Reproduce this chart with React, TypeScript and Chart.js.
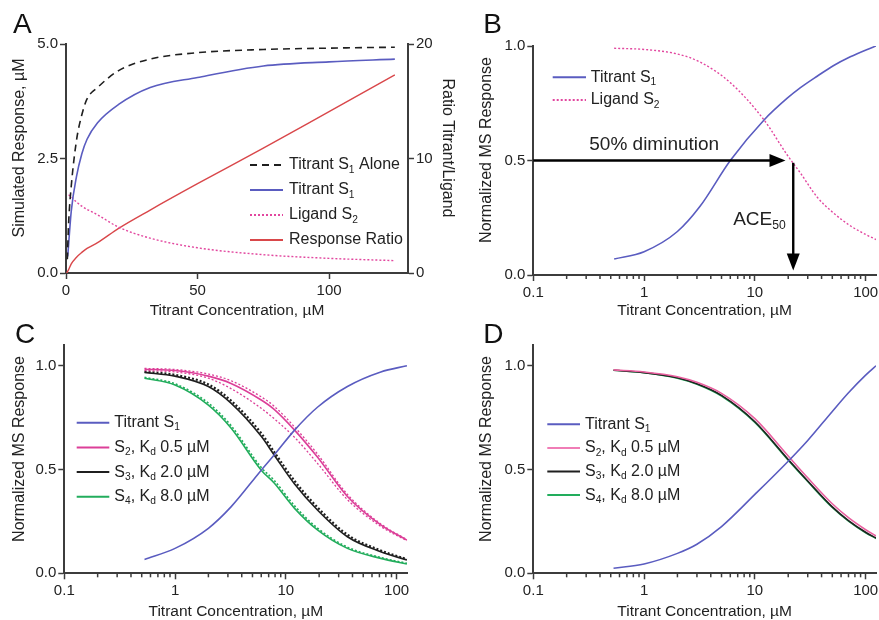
import React, { useEffect, useRef } from "react";
import { Chart, registerables } from "chart.js";

Chart.register(...registerables);

const FONT = "'Liberation Sans', Arial, Helvetica, sans-serif";
const AXIS = "#3c3c3c";
const TEXT = "#222222";
const BLUE = "#5a5cc0";
const PINK = "#e2479f";
const MAGENTA = "#dc3f98";
const PINK_D = "#e9609f";
const RED = "#d9474a";
const GREEN = "#22ad5c";
const BLACK = "#1f1f1f";

// ---------- Panel A (linear) ----------
const aXTicks = [0, 50, 100];
const aXTickLabels = ["0", "50", "100"];
const aYTicks = [0, 2.5, 5];
const aYTickLabels = ["0.0", "2.5", "5.0"];
const aY2Ticks = [0, 10, 20];
const aY2TickLabels = ["0", "10", "20"];

const aAloneX = [0.5, 1, 2, 4, 6, 8, 12, 20, 32, 50, 75, 100, 125];
const aAlone = [0.3, 1.1, 1.9, 2.9, 3.45, 3.8, 4.05, 4.42, 4.67, 4.81, 4.88, 4.91, 4.93];
const aS1X = [0.65, 2, 4, 6, 8, 12, 20, 32, 50, 75, 100, 125];
const aS1 = [0.36, 1.35, 2.11, 2.6, 2.92, 3.28, 3.68, 4.05, 4.27, 4.52, 4.61, 4.67];
const aS2X = [1, 2, 4, 6, 8, 12, 20, 32, 50, 75, 100, 125];
const aS2 = [1.71, 1.66, 1.55, 1.46, 1.39, 1.27, 1.0, 0.76, 0.55, 0.4, 0.32, 0.27];
const aRatioX = [0.25, 1, 2, 4, 6, 8, 12, 20, 32, 50, 75, 100, 125];
const aRatio = [0, 0.3, 0.8, 1.38, 1.8, 2.15, 2.65, 3.9, 5.5, 7.8, 10.9, 14.1, 17.3];

// ---------- Log panels shared ticks ----------
const logXTicks = [0.1, 1, 10, 100];
const logXTickLabels = ["0.1", "1", "10", "100"];
const logMinorTicks = [0.1, 1, 10].flatMap((d) => [2, 3, 4, 5, 6, 7, 8, 9].map((m) => +(m * d).toFixed(2)));
const normYTicks = [0, 0.5, 1];
const normYTickLabels = ["0.0", "0.5", "1.0"];

// ---------- Panel B ----------
const bX = [0.537, 1, 2, 3.2, 6, 12.1, 19.6, 25.8, 36.5, 51.5, 72.7, 102, 124];
const bS1 = [0.07, 0.102, 0.19, 0.3, 0.5, 0.677, 0.772, 0.818, 0.868, 0.915, 0.953, 0.984, 1.0];
const bS2 = [0.99, 0.985, 0.965, 0.93, 0.84, 0.677, 0.524, 0.445, 0.34, 0.27, 0.215, 0.175, 0.155];
const bArrowY = 0.5;
const bArrowStartX = 0.1;
const bArrowTipX = 18.9;
const bAceX = 22.2;
const bAceTopY = 0.49;
const bAceTipY = 0.02;
const bDimLabel = "50% diminution";
const bDimLabelPos = [0.32, 0.57];
const bAceLabel = "ACE_{50}";
const bAceLabelPos = [19, 0.24];

// ---------- Panel C ----------
const cX = [0.53, 1, 2, 3.2, 6, 7.85, 12, 19.3, 36, 72, 124];
const cS1 = [0.067, 0.12, 0.217, 0.32, 0.497, 0.57, 0.69, 0.8, 0.9, 0.97, 1.0];
const cS2 = [0.983, 0.977, 0.95, 0.915, 0.835, 0.79, 0.69, 0.56, 0.37, 0.233, 0.16];
const cS2Upper = [0.987, 0.982, 0.96, 0.928, 0.85, 0.805, 0.705, 0.575, 0.38, 0.238, 0.162];
const cS2Lower = [0.977, 0.97, 0.94, 0.89, 0.795, 0.745, 0.655, 0.53, 0.355, 0.226, 0.157];
const cS3 = [0.968, 0.95, 0.9, 0.82, 0.66, 0.57, 0.43, 0.305, 0.176, 0.104, 0.064];
const cS3Dot = [0.972, 0.956, 0.91, 0.832, 0.675, 0.585, 0.445, 0.318, 0.186, 0.11, 0.068];
const cS4 = [0.94, 0.907, 0.81, 0.7, 0.497, 0.435, 0.313, 0.209, 0.12, 0.072, 0.045];
const cS4Dot = [0.944, 0.913, 0.82, 0.712, 0.51, 0.448, 0.325, 0.218, 0.126, 0.076, 0.048];

// ---------- Panel D ----------
const dX = [0.53, 1, 2, 3, 5, 10, 20, 30, 50, 70, 100, 124];
const dS1 = [0.024, 0.045, 0.096, 0.14, 0.225, 0.38, 0.54, 0.64, 0.78, 0.87, 0.955, 1.0];
const dS2 = [0.98, 0.97, 0.947, 0.92, 0.867, 0.745, 0.565, 0.46, 0.335, 0.268, 0.21, 0.18];
const dS3 = [0.978, 0.967, 0.942, 0.913, 0.857, 0.73, 0.548, 0.445, 0.32, 0.254, 0.198, 0.17];
const dS4 = [0.978, 0.966, 0.94, 0.911, 0.854, 0.727, 0.545, 0.442, 0.317, 0.251, 0.195, 0.168];

// ---------- helpers ----------
function pts(xs: number[], ys: number[]) {
  return xs.map((x, i) => ({ x, y: ys[i] }));
}

function drawRich(ctx: CanvasRenderingContext2D, text: string, x: number, y: number, size: number, align: "left" | "right" = "left") {
  const parts: { t: string; sub: boolean }[] = [];
  const re = /_\{([^}]*)\}|_(.)/g;
  let last = 0;
  let m: RegExpExecArray | null;
  while ((m = re.exec(text))) {
    if (m.index > last) parts.push({ t: text.slice(last, m.index), sub: false });
    parts.push({ t: m[1] !== undefined ? m[1] : m[2], sub: true });
    last = re.lastIndex;
  }
  if (last < text.length) parts.push({ t: text.slice(last), sub: false });
  const subSize = size * 0.64;
  const widths = parts.map((p) => {
    ctx.font = `${p.sub ? subSize : size}px ${FONT}`;
    return ctx.measureText(p.t).width;
  });
  const total = widths.reduce((a, b) => a + b, 0);
  let cx = align === "right" ? x - total : x;
  ctx.textAlign = "left";
  ctx.textBaseline = "middle";
  parts.forEach((p, i) => {
    ctx.font = `${p.sub ? subSize : size}px ${FONT}`;
    ctx.fillText(p.t, cx, p.sub ? y + size * 0.3 : y);
    cx += widths[i];
  });
}

interface Extras {
  letter: string;
  letterX: number;
  letterY: number;
  yTitles: { text: string; x: number; y: number; rot: number }[];
  legX0: number;
  legX1: number;
  legTextX: number;
  legY: number;
  legDY: number;
  minorTicks?: number[];
  arrows?: boolean;
}

function makeExtras(e: Extras) {
  return {
    id: "extras",
    afterDraw(chart: any) {
      const ctx: CanvasRenderingContext2D = chart.ctx;
      ctx.save();
      if (e.minorTicks) {
        const xs = chart.scales.x;
        ctx.strokeStyle = AXIS;
        ctx.lineWidth = 1.5;
        e.minorTicks.forEach((v) => {
          if (v <= xs.min || v >= xs.max) return;
          const px = xs.getPixelForValue(v);
          ctx.beginPath();
          ctx.moveTo(px, xs.top);
          ctx.lineTo(px, xs.top + 4);
          ctx.stroke();
        });
      }
      e.yTitles.forEach((t) => {
        ctx.save();
        ctx.translate(t.x, t.y);
        ctx.rotate((t.rot * Math.PI) / 180);
        ctx.font = `16px ${FONT}`;
        ctx.fillStyle = TEXT;
        ctx.textAlign = "center";
        ctx.textBaseline = "middle";
        ctx.fillText(t.text, 0, 0);
        ctx.restore();
      });
      ctx.font = `28px ${FONT}`;
      ctx.fillStyle = "#111";
      ctx.textAlign = "left";
      ctx.textBaseline = "alphabetic";
      ctx.fillText(e.letter, e.letterX, e.letterY);
      const items = chart.data.datasets.filter((d: any) => d.inLegend !== false);
      items.forEach((d: any, i: number) => {
        const y = e.legY + i * e.legDY;
        ctx.save();
        ctx.strokeStyle = d.legendColor || d.borderColor;
        ctx.lineWidth = 2;
        ctx.setLineDash(d.borderDash || []);
        ctx.beginPath();
        ctx.moveTo(e.legX0, y);
        ctx.lineTo(e.legX1, y);
        ctx.stroke();
        ctx.restore();
        ctx.fillStyle = TEXT;
        drawRich(ctx, d.label, e.legTextX, y, 16);
      });
      if (e.arrows) {
        const xs = chart.scales.x;
        const ys = chart.scales.y;
        ctx.strokeStyle = "#000";
        ctx.fillStyle = "#000";
        ctx.lineWidth = 2.4;
        const hy = ys.getPixelForValue(bArrowY);
        const hx0 = xs.getPixelForValue(bArrowStartX);
        const hx1 = xs.getPixelForValue(bArrowTipX);
        ctx.beginPath();
        ctx.moveTo(hx0, hy);
        ctx.lineTo(hx1 - 14, hy);
        ctx.stroke();
        ctx.beginPath();
        ctx.moveTo(hx1, hy);
        ctx.lineTo(hx1 - 16, hy - 6.5);
        ctx.lineTo(hx1 - 16, hy + 6.5);
        ctx.closePath();
        ctx.fill();
        const vx = xs.getPixelForValue(bAceX);
        const vy0 = ys.getPixelForValue(bAceTopY);
        const vy1 = ys.getPixelForValue(bAceTipY);
        ctx.beginPath();
        ctx.moveTo(vx, vy0);
        ctx.lineTo(vx, vy1 - 14);
        ctx.stroke();
        ctx.beginPath();
        ctx.moveTo(vx, vy1);
        ctx.lineTo(vx - 6.5, vy1 - 17);
        ctx.lineTo(vx + 6.5, vy1 - 17);
        ctx.closePath();
        ctx.fill();
        ctx.fillStyle = TEXT;
        drawRich(ctx, bDimLabel, xs.getPixelForValue(bDimLabelPos[0]), ys.getPixelForValue(bDimLabelPos[1]), 19);
        drawRich(ctx, bAceLabel, xs.getPixelForValue(bAceLabelPos[0]), ys.getPixelForValue(bAceLabelPos[1]), 19, "right");
      }
      ctx.restore();
    },
  };
}

const tickFont = { family: FONT, size: 15 };
const gridOpts = { display: true, drawOnChartArea: false, drawTicks: true, tickLength: 6, tickColor: AXIS, tickWidth: 1.5 };
const borderOpts = { display: true, color: AXIS, width: 2 };

function xAxis(type: string, min: number, max: number, ticks: number[], labels: string[], h: number, titlePad: number) {
  return {
    type,
    position: "bottom",
    min,
    max,
    bounds: "data",
    afterBuildTicks: (s: any) => {
      s.ticks = ticks.map((v) => ({ value: v }));
    },
    afterFit: (s: any) => {
      s.height = h;
      s.paddingLeft = 0;
      s.paddingRight = 0;
    },
    ticks: { callback: (_v: any, i: number) => labels[i], font: tickFont, color: TEXT, padding: 3, autoSkip: false, maxRotation: 0 },
    grid: gridOpts,
    border: borderOpts,
    title: {
      display: true,
      text: "Titrant Concentration, µM",
      font: { family: FONT, size: 15.5, lineHeight: 1 },
      color: TEXT,
      padding: { top: 0, bottom: titlePad },
    },
  };
}

function yAxis(position: string, min: number, max: number, ticks: number[], labels: string[], w: number) {
  return {
    type: "linear",
    position,
    min,
    max,
    bounds: "data",
    afterBuildTicks: (s: any) => {
      s.ticks = ticks.map((v) => ({ value: v }));
    },
    afterFit: (s: any) => {
      s.width = w;
      s.paddingTop = 0;
      s.paddingBottom = 0;
    },
    ticks: { callback: (_v: any, i: number) => labels[i], font: tickFont, color: TEXT, padding: 2, autoSkip: false },
    grid: gridOpts,
    border: borderOpts,
    title: { display: false },
  };
}

function line(label: string, xs: number[], ys: number[], color: string, extra: any = {}) {
  return {
    label,
    data: pts(xs, ys),
    borderColor: color,
    borderWidth: 1.6,
    pointRadius: 0,
    fill: false,
    cubicInterpolationMode: "monotone",
    ...extra,
  };
}

function baseOptions(padding: any, scales: any) {
  return {
    responsive: false,
    animation: false,
    devicePixelRatio: 1,
    layout: { padding },
    plugins: { legend: { display: false }, tooltip: { enabled: false } },
    scales,
  };
}

function configA(): any {
  return {
    type: "line",
    data: {
      datasets: [
        line("Titrant S_1 Alone", aAloneX, aAlone, BLACK, { borderDash: [7, 5], yAxisID: "y" }),
        line("Titrant S_1", aS1X, aS1, BLUE, { yAxisID: "y" }),
        line("Ligand S_2", aS2X, aS2, PINK, { borderDash: [2, 2], borderWidth: 1.4, yAxisID: "y" }),
        line("Response Ratio", aRatioX, aRatio, RED, { borderWidth: 1.4, yAxisID: "y2" }),
      ],
    },
    options: baseOptions(
      { top: 44, left: 0, right: 0, bottom: 0 },
      {
        x: xAxis("linear", 0, 130, aXTicks, aXTickLabels, 47, 1.25),
        y: yAxis("left", 0, 5, aYTicks, aYTickLabels, 66),
        y2: yAxis("right", 0, 20, aY2Ticks, aY2TickLabels, 52),
      }
    ),
    plugins: [
      makeExtras({
        letter: "A",
        letterX: 13,
        letterY: 33,
        yTitles: [
          { text: "Simulated Response, µM", x: 20, y: 148, rot: -90 },
          { text: "Ratio Titrant/Ligand", x: 447, y: 148, rot: 90 },
        ],
        legX0: 250,
        legX1: 283,
        legTextX: 289,
        legY: 165,
        legDY: 25,
      }),
    ],
  };
}

function configB(): any {
  return {
    type: "line",
    data: {
      datasets: [
        line("Titrant S_1", bX, bS1, BLUE),
        line("Ligand S_2", bX, bS2, PINK, { borderDash: [2, 2], borderWidth: 1.4 }),
      ],
    },
    options: baseOptions(
      { top: 46, left: 0, right: 3, bottom: 0 },
      {
        x: xAxis("logarithmic", 0.1, 124, logXTicks, logXTickLabels, 45, 1.25),
        y: yAxis("left", 0, 1, normYTicks, normYTickLabels, 73.3),
      }
    ),
    plugins: [
      makeExtras({
        letter: "B",
        letterX: 23.3,
        letterY: 33,
        yTitles: [{ text: "Normalized MS Response", x: 26.7, y: 150, rot: -90 }],
        legX0: 92.7,
        legX1: 126,
        legTextX: 130.7,
        legY: 77.3,
        legDY: 22.7,
        minorTicks: logMinorTicks,
        arrows: true,
      }),
    ],
  };
}

function configC(): any {
  return {
    type: "line",
    data: {
      datasets: [
        line("Titrant S_1", cX, cS1, BLUE),
        line("S_2, K_d 0.5 µM", cX, cS2, MAGENTA),
        line("S_3, K_d 2.0 µM", cX, cS3, BLACK),
        line("S_4, K_d 8.0 µM", cX, cS4, GREEN),
        line("S2 upper", cX, cS2Upper, MAGENTA, { inLegend: false, borderDash: [2, 2], borderWidth: 1.3 }),
        line("S2 lower", cX, cS2Lower, MAGENTA, { inLegend: false, borderDash: [2, 2], borderWidth: 1.3 }),
        line("S3 dotted", cX, cS3Dot, BLACK, { inLegend: false, borderDash: [2, 2], borderWidth: 2.2 }),
        line("S4 dotted", cX, cS4Dot, GREEN, { inLegend: false, borderDash: [2, 2], borderWidth: 1.6 }),
      ],
    },
    options: baseOptions(
      { top: 35, left: 0, right: 32.7, bottom: 0 },
      {
        x: xAxis("logarithmic", 0.1, 125, logXTicks, logXTickLabels, 46.7, 0.55),
        y: yAxis("left", 0, 1.1, normYTicks, normYTickLabels, 64.3),
      }
    ),
    plugins: [
      makeExtras({
        letter: "C",
        letterX: 15,
        letterY: 33,
        yTitles: [{ text: "Normalized MS Response", x: 20, y: 139, rot: -90 }],
        legX0: 76.7,
        legX1: 109.3,
        legTextX: 114.3,
        legY: 112.7,
        legDY: 24.7,
        minorTicks: logMinorTicks,
      }),
    ],
  };
}

function configD(): any {
  return {
    type: "line",
    data: {
      datasets: [
        line("Titrant S_1", dX, dS1, BLUE),
        line("S_2, K_d 0.5 µM", dX, dS2, PINK_D, { legendColor: "#f07db6" }),
        line("S_3, K_d 2.0 µM", dX, dS3, BLACK),
        line("S_4, K_d 8.0 µM", dX, dS4, GREEN),
      ],
    },
    options: baseOptions(
      { top: 35, left: 0, right: 3, bottom: 0 },
      {
        x: xAxis("logarithmic", 0.1, 124, logXTicks, logXTickLabels, 46.7, 0.55),
        y: yAxis("left", 0, 1.1, normYTicks, normYTickLabels, 73.3),
      }
    ),
    plugins: [
      makeExtras({
        letter: "D",
        letterX: 23.3,
        letterY: 33,
        yTitles: [{ text: "Normalized MS Response", x: 26.7, y: 139, rot: -90 }],
        legX0: 87.3,
        legX1: 120,
        legTextX: 125,
        legY: 114.3,
        legDY: 23.6,
        minorTicks: logMinorTicks,
      }),
    ],
  };
}

function Panel({ make, left, top, width, height }: { make: () => any; left: number; top: number; width: number; height: number }) {
  const ref = useRef<HTMLCanvasElement>(null);
  useEffect(() => {
    const chart = new Chart(ref.current as HTMLCanvasElement, make());
    return () => chart.destroy();
  }, []);
  return (
    <canvas
      ref={ref}
      width={width}
      height={height}
      style={{ position: "absolute", left, top, width, height }}
    />
  );
}

export default function App() {
  return (
    <div style={{ position: "fixed", left: 0, top: 0, width: 879, height: 620, background: "#fff", overflow: "hidden" }}>
      <Panel make={configA} left={0} top={0} width={460} height={320} />
      <Panel make={configB} left={460} top={0} width={419} height={320} />
      <Panel make={configC} left={0} top={310} width={440} height={310} />
      <Panel make={configD} left={460} top={310} width={419} height={310} />
    </div>
  );
}
